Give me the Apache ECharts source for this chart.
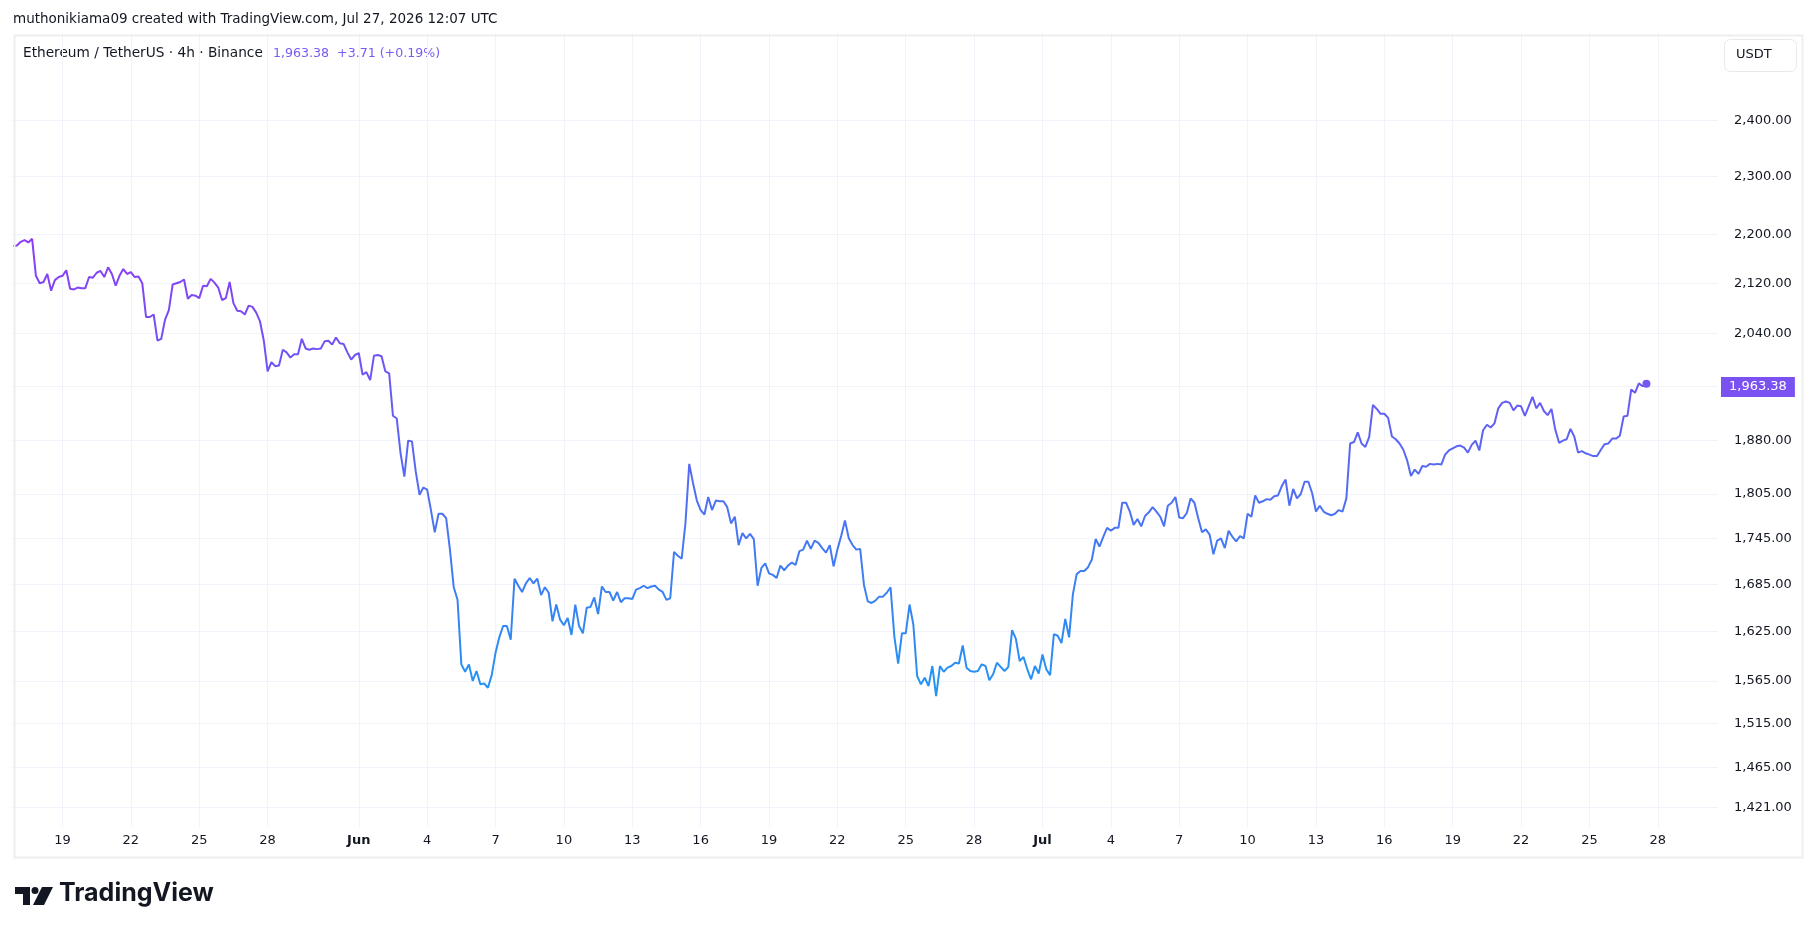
<!DOCTYPE html>
<html>
<head>
<meta charset="utf-8">
<title>ETHUSDT 4h</title>
<script src="https://cdn.jsdelivr.net/npm/echarts@6/dist/echarts.min.js"></script>
<style>
  html, body { margin: 0; padding: 0; background: #ffffff; }
  #chart { width: 1814px; height: 931px; }
</style>
</head>
<body>
<div id="chart"></div>
<script>
// 4h closes, first bar May 16 20:00 UTC, last bar Jul 27 12:00 UTC
const startTime = Date.UTC(2026, 4, 16, 20);
const barMs = 4 * 3600 * 1000;
const closes = [
  2181, 2182, 2188, 2191, 2187, 2193, 2132, 2120, 2122, 2135,
  2108, 2125, 2130, 2132, 2141, 2111, 2110, 2113, 2112, 2112,
  2130, 2129, 2137, 2140, 2130, 2146, 2135, 2116, 2132, 2143,
  2135, 2138, 2130, 2131, 2120, 2066, 2066, 2070, 2029, 2032,
  2062, 2077, 2118, 2120, 2122, 2126, 2095, 2101, 2100, 2096,
  2116, 2115, 2127, 2121, 2113, 2093, 2096, 2122, 2088, 2076,
  2075, 2070, 2084, 2082, 2073, 2059, 2029, 1982, 1996, 1990,
  1991, 2015, 2011, 2003, 2008, 2008, 2032, 2017, 2015, 2017,
  2016, 2017, 2028, 2029, 2023, 2034, 2025, 2024, 2011, 2000,
  2007, 2010, 1977, 1981, 1969, 2006, 2007, 2005, 1982, 1979,
  1916, 1912, 1862, 1829, 1880, 1879, 1836, 1804, 1814, 1811,
  1783, 1753, 1778, 1778, 1772, 1730, 1681, 1665, 1585, 1576,
  1585, 1565, 1577, 1561, 1562, 1557, 1572, 1599, 1618, 1632,
  1632, 1615, 1692, 1683, 1675, 1686, 1693, 1686, 1692, 1671,
  1681, 1674, 1638, 1659, 1640, 1633, 1642, 1621, 1659, 1632,
  1623, 1655, 1656, 1668, 1647, 1682, 1675, 1675, 1664, 1675,
  1662, 1667, 1667, 1666, 1678, 1680, 1683, 1680, 1682, 1683,
  1678, 1675, 1665, 1667, 1727, 1722, 1718, 1765, 1847, 1820,
  1796, 1783, 1777, 1801, 1783, 1796, 1795, 1795, 1787, 1765,
  1774, 1736, 1752, 1745, 1751, 1744, 1683, 1706, 1712, 1699,
  1697, 1693, 1709, 1703, 1709, 1713, 1710, 1728, 1730, 1742,
  1731, 1742, 1739, 1732, 1726, 1736, 1708, 1730, 1748, 1769,
  1745, 1736, 1730, 1731, 1684, 1663, 1661, 1664, 1669, 1669,
  1674, 1681, 1619, 1586, 1623, 1623, 1659, 1634, 1571, 1561,
  1569, 1559, 1583, 1547, 1583, 1576, 1581, 1583, 1587, 1586,
  1608, 1581, 1577, 1576, 1577, 1585, 1583, 1566, 1573, 1587,
  1582, 1577, 1582, 1627, 1616, 1589, 1594, 1579, 1567, 1583,
  1574, 1597, 1579, 1572, 1622, 1620, 1611, 1641, 1618, 1672,
  1698, 1702, 1702, 1707, 1717, 1744, 1734, 1747, 1759, 1755,
  1759, 1759, 1793, 1793, 1781, 1763, 1771, 1761, 1775, 1780,
  1787, 1781, 1774, 1761, 1789, 1793, 1801, 1773, 1772, 1779,
  1799, 1793, 1772, 1753, 1757, 1750, 1724, 1742, 1745, 1732,
  1755, 1747, 1741, 1748, 1745, 1778, 1774, 1803, 1793, 1795,
  1798, 1797, 1802, 1803, 1816, 1825, 1789, 1812, 1799, 1805,
  1822, 1822, 1806, 1781, 1789, 1781, 1778, 1776, 1778, 1783,
  1781, 1799, 1876, 1878, 1892, 1876, 1871, 1885, 1932, 1926,
  1919, 1919, 1913, 1886, 1882, 1876, 1867, 1852, 1830, 1839,
  1833, 1844, 1843, 1847, 1846, 1847, 1846, 1860, 1866, 1869,
  1872, 1873, 1870, 1863, 1874, 1880, 1866, 1895, 1903, 1899,
  1905, 1927, 1935, 1937, 1935, 1924, 1931, 1930, 1916, 1930,
  1944, 1927, 1935, 1923, 1917, 1926, 1896, 1877, 1880, 1882,
  1897, 1886, 1863, 1865, 1862, 1860, 1858, 1858, 1867, 1875,
  1876, 1883, 1883, 1887, 1915, 1916, 1955, 1950, 1964, 1959.67,
  1963.38
];

const priceTicks = [2400, 2300, 2200, 2120, 2040, 1960, 1880, 1805, 1745, 1685, 1625, 1565, 1515, 1465, 1421];
const hiddenTick = 1960; // sits under the last-price tag
const tickDates = [
  '2026-05-19', '2026-05-22', '2026-05-25', '2026-05-28',
  '2026-06-01', '2026-06-04', '2026-06-07', '2026-06-10', '2026-06-13', '2026-06-16',
  '2026-06-19', '2026-06-22', '2026-06-25', '2026-06-28',
  '2026-07-01', '2026-07-04', '2026-07-07', '2026-07-10', '2026-07-13', '2026-07-16',
  '2026-07-19', '2026-07-22', '2026-07-25', '2026-07-28'
];
const monthNames = ['Jan', 'Feb', 'Mar', 'Apr', 'May', 'Jun', 'Jul', 'Aug', 'Sep', 'Oct', 'Nov', 'Dec'];

const lastPrice = closes[closes.length - 1];
const lastTime = startTime + (closes.length - 1) * barMs;
const xMin = Date.UTC(2026, 4, 16, 18, 49);
const xMax = Date.UTC(2026, 6, 30, 15, 22);
const priceMin = 1400, priceMax = 2566;

const FONT = '"DejaVu Sans", Verdana, sans-serif';
const TEXT = '#131722';

// price axis is logarithmic: plot ln(price) and label back in price
const seriesData = closes.map((p, i) => [startTime + i * barMs, Math.log(p)]);
const tickTimes = tickDates.map(d => new Date(d + 'T00:00:00Z').getTime());

const chart = echarts.init(document.getElementById('chart'));

const option = {
  backgroundColor: '#ffffff',
  animation: false,
  grid: { left: 12, right: 96, top: 33, bottom: 104 },
  xAxis: {
    type: 'value',
    min: xMin,
    max: xMax,
    axisLine: { show: false },
    axisTick: { show: false, customValues: tickTimes },
    splitLine: { show: true, lineStyle: { color: '#f0f3fa', width: 1 } },
    axisLabel: {
      customValues: tickTimes,
      margin: 7,
      color: TEXT,
      fontFamily: FONT,
      fontSize: 13,
      formatter: v => {
        const d = new Date(v);
        const day = d.getUTCDate();
        return day === 1 ? '{b|' + monthNames[d.getUTCMonth()] + '}' : String(day);
      },
      rich: { b: { fontWeight: 'bold', color: TEXT, fontFamily: FONT, fontSize: 13 } }
    }
  },
  yAxis: {
    type: 'value',
    position: 'right',
    min: Math.log(priceMin),
    max: Math.log(priceMax),
    axisLine: { show: false },
    axisTick: { show: false, customValues: priceTicks.map(Math.log) },
    splitLine: { show: true, lineStyle: { color: '#f0f3fa', width: 1 } },
    axisLabel: {
      customValues: priceTicks.map(Math.log),
      margin: 16,
      color: TEXT,
      fontFamily: FONT,
      fontSize: 13,
      formatter: v => {
        const p = Math.round(Math.exp(v));
        if (p === hiddenTick) return '';
        return echarts.format.addCommas(p.toFixed(2));
      }
    }
  },
  series: [{
    type: 'line',
    data: seriesData,
    symbol: 'none',
    silent: true,
    clip: false,
    lineStyle: {
      width: 2,
      color: new echarts.graphic.LinearGradient(0, 0, 0, 1, [
        { offset: 0, color: '#8c3cf5' },
        { offset: 1, color: '#2196f3' }
      ])
    },
    markPoint: {
      silent: true,
      symbol: 'circle',
      symbolSize: 8,
      itemStyle: { color: '#7757f3' },
      label: { show: false },
      data: [{ coord: [lastTime, Math.log(lastPrice)] }]
    },
    markLine: {
      silent: true,
      symbol: ['none', 'none'],
      animation: false,
      lineStyle: { width: 1, color: 'rgba(0,0,0,0)', type: 'solid' },
      label: {
        show: true,
        position: 'end',
        distance: 3,
        formatter: () => echarts.format.addCommas(lastPrice.toFixed(2)),
        color: '#ffffff',
        backgroundColor: '#7a52f2',
        padding: [4, 8, 3, 8],
        fontFamily: FONT,
        fontSize: 13
      },
      data: [{ yAxis: Math.log(lastPrice) }]
    }
  }],
  graphic: [
    {
      type: 'text', left: 13, top: 12,
      style: { text: 'muthonikiama09 created with TradingView.com, Jul 27, 2026 12:07 UTC', fill: TEXT, font: '13.5px ' + FONT }
    },
    {
      type: 'rect', left: 12, top: 33, z: 100,
      shape: { width: 1788, height: 822 },
      style: { fill: 'none', stroke: '#eeeeee', lineWidth: 2 }
    },
    {
      type: 'text', left: 23, top: 46,
      style: { text: 'Ethereum / TetherUS · 4h · Binance', fill: TEXT, font: '13.7px ' + FONT }
    },
    {
      type: 'text', left: 273, top: 47,
      style: { text: '1,963.38  +3.71 (+0.19%)', fill: '#7a5af5', font: '12.6px ' + FONT }
    },
    {
      type: 'rect', left: 1724, top: 39,
      shape: { width: 72, height: 32, r: 6 },
      style: { fill: '#ffffff', stroke: '#e6e8ee', lineWidth: 1 }
    },
    {
      type: 'text', left: 1736, top: 48,
      style: { text: 'USDT', fill: TEXT, font: '13px ' + FONT }
    },
    // TradingView logo
    {
      type: 'group', left: 15, top: 887,
      children: [
        { type: 'polygon', shape: { points: [[0, 0], [15, 0], [15, 18], [8, 18], [8, 7], [0, 7]] }, style: { fill: '#131722' } },
        { type: 'circle', shape: { cx: 20, cy: 3.5, r: 3.5 }, style: { fill: '#131722' } },
        { type: 'polygon', shape: { points: [[27, 0], [38, 0], [29, 18], [18, 18]] }, style: { fill: '#131722' } }
      ]
    },
    {
      type: 'text', left: 59, top: 881,
      style: { text: 'TradingView', fill: '#131722', font: 'bold 25px Inter, "Noto Sans", sans-serif' }
    }
  ]
};

chart.setOption(option);
window.addEventListener('resize', chart.resize);
</script>
</body>
</html>
